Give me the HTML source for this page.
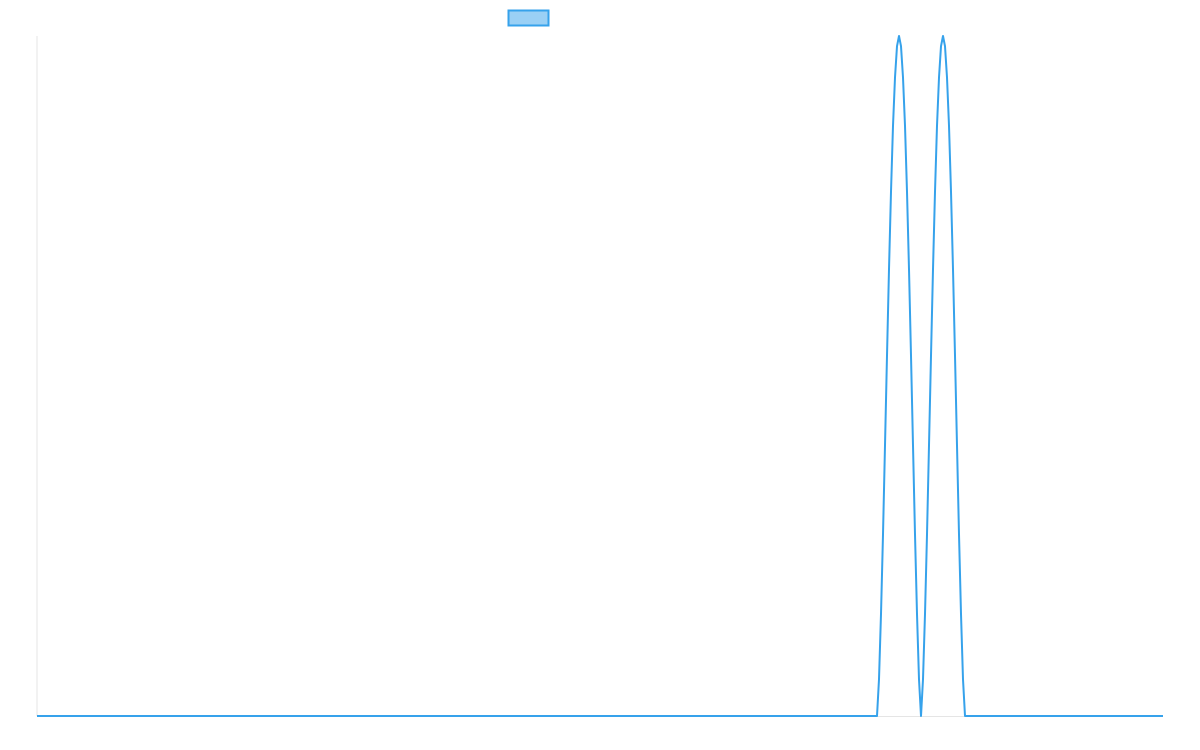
<!DOCTYPE html>
<html><head><meta charset="utf-8"><style>
html,body{margin:0;padding:0;background:#fff;width:1200px;height:750px;overflow:hidden;font-family:"Liberation Sans",sans-serif}
</style></head><body>
<svg id="chart" width="1200" height="750" viewBox="0 0 1200 750" xmlns="http://www.w3.org/2000/svg">
<rect x="508.5" y="10.5" width="40" height="15" fill="rgba(54,162,235,0.5)" stroke="#36a2eb" stroke-width="2"/>
<line x1="37" y1="36" x2="37" y2="716" stroke="#e5e5e5" stroke-width="1"/>
<line x1="37" y1="716.5" x2="1163" y2="716.5" stroke="#e5e5e5" stroke-width="1"/>
<g id="series"></g>
</svg>
<script>
const pointCount = 564;
const peakStart = 420;
const peakValues = [0,0.054,0.150,0.267,0.398,0.530,0.657,0.771,0.868,0.939,0.985,1,0.985,0.939,0.868,0.771,0.657,0.530,0.398,0.267,0.150,0.054,
0,0.054,0.150,0.267,0.398,0.530,0.657,0.771,0.868,0.939,0.985,1,0.985,0.939,0.868,0.771,0.657,0.530,0.398,0.267,0.150,0.054,0];
const yMin = 0, yMax = 1;
const values = new Array(pointCount).fill(0);
peakValues.forEach((v,i)=>{values[peakStart+i]=v;});
const X0=37,X1=1163,Y0=716,Y1=36;
const xs = i => X0 + (X1-X0)*i/(pointCount-1);
const ys = v => Y0 - (Y0-Y1)*(v-yMin)/(yMax-yMin);
let d = values.map((v,i)=>(i?'L':'M')+xs(i).toFixed(2)+' '+ys(v).toFixed(2)).join(' ');
const p = document.createElementNS('http://www.w3.org/2000/svg','path');
p.setAttribute('d',d);
p.setAttribute('fill','none');
p.setAttribute('stroke','#36a2eb');
p.setAttribute('stroke-width','2');
p.setAttribute('stroke-linejoin','round');


document.getElementById('series').appendChild(p);
</script>
</body></html>
